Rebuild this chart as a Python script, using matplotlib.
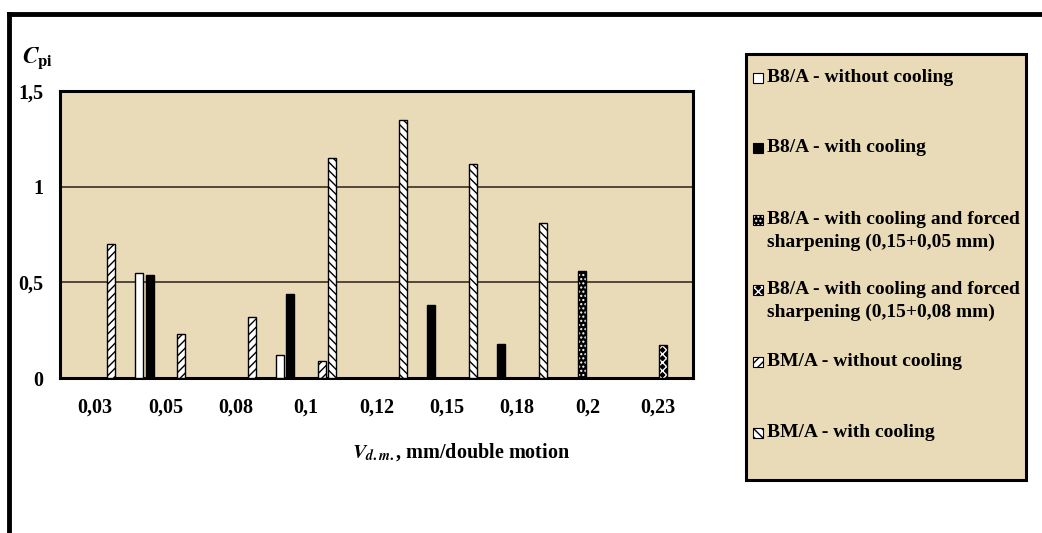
import numpy as np
import matplotlib
matplotlib.use('Agg')
import matplotlib.pyplot as plt
from matplotlib.patches import Rectangle
from matplotlib.lines import Line2D

plt.rcParams['font.family'] = ['Liberation Serif', 'DejaVu Serif']
plt.rcParams['font.weight'] = 'bold'
plt.rcParams['mathtext.fontset'] = 'stix'
plt.rcParams['hatch.linewidth'] = 1.0

nan = np.nan

# data
categories = ['0,03', '0,05', '0,08', '0,1', '0,12', '0,15', '0,18', '0,2', '0,23']
b8_no_cool = [nan, 0.55, nan, 0.12, nan, nan, nan, nan, nan]
b8_cool = [nan, 0.54, nan, 0.44, nan, 0.38, 0.18, nan, nan]
b8_forced_05 = [nan, nan, nan, nan, nan, nan, nan, 0.56, nan]
b8_forced_08 = [nan, nan, nan, nan, nan, nan, nan, nan, 0.17]
bm_no_cool = [0.70, 0.23, 0.32, 0.09, nan, nan, nan, nan, nan]
bm_cool = [nan, nan, nan, 1.15, 1.35, 1.12, 0.81, nan, nan]

labels = ['B8/A - without cooling',
          'B8/A - with cooling',
          'B8/A - with cooling and forced\nsharpening (0,15+0,05 mm)',
          'B8/A - with cooling and forced\nsharpening (0,15+0,08 mm)',
          'BM/A - without cooling',
          'BM/A - with cooling']
series = [b8_no_cool, b8_cool, b8_forced_05, b8_forced_08, bm_no_cool, bm_cool]

# face, hatch, hatch colour
styles = [('white', None, 'black'),
          ('black', None, 'black'),
          ('black', '....', 'white'),
          ('black', 'xxxx', 'white'),
          ('white', '////', 'black'),
          ('white', '\\\\\\\\', 'black')]

bg = '#E9DAB8'
W, H = 1042, 533
fig = plt.figure(figsize=(W / 100, H / 100), dpi=100)
fig.patch.set_facecolor('white')

ax = fig.add_axes([60 / W, 1 - 378 / H, 633 / W, 287 / H])
ax.set_facecolor(bg)

x = np.arange(len(categories))
pitch = 0.1487
width = 0.114
for j, (vals, (face, hatch, hcol)) in enumerate(zip(series, styles)):
    pos = x + (j - 2.5) * pitch
    if hatch:
        ax.bar(pos, vals, width, color=face, edgecolor=hcol, hatch=hatch, linewidth=0, zorder=3)
        ax.bar(pos, vals, width, fill=False, edgecolor='black', linewidth=1, zorder=4)
    else:
        ax.bar(pos, vals, width, color=face, edgecolor='black', linewidth=1, zorder=3)

ax.set_xlim(-0.5, len(categories) - 0.5)
ax.set_ylim(0, 1.5)
ax.set_yticks([0, 0.5, 1, 1.5])
ax.set_yticklabels(['0', '0,5', '1', '1,5'])
ax.set_xticks(x)
ax.set_xticklabels(categories)
ax.tick_params(axis='both', length=0, labelsize=14.5)
ax.tick_params(axis='x', pad=14)
ax.tick_params(axis='y', pad=12)
for yv in [0.5, 1.0]:
    ax.axhline(yv, color='#3a2e22', linewidth=1.2, zorder=2)
for s in ax.spines.values():
    s.set_linewidth(2.2)
    s.set_color('black')

fig.text(22 / W, 1 - 58 / H, r'$C_{\mathrm{pi}}$', fontsize=17, va='center', ha='left',
         fontweight='normal')
fig.text(461 / W, 1 - 452 / H, r'$V_{d.m.}$, mm/double motion', fontsize=14.5,
         va='center', ha='center', fontweight='bold')

# outer frame (only top and left visible in the crop)
fig.add_artist(Line2D([9 / W, 1], [1 - 14 / H, 1 - 14 / H], color='black', lw=3.5))
fig.add_artist(Line2D([9 / W, 9 / W], [0, 1 - 14 / H], color='black', lw=3.5))

# legend box
lx0, ly0, lx1, ly1 = 746, 54, 1026, 480
fig.add_artist(Rectangle((lx0 / W, 1 - ly1 / H), (lx1 - lx0) / W, (ly1 - ly0) / H,
                         transform=fig.transFigure, facecolor=bg, edgecolor='black', lw=2.2))
entry_y = [78, 148, 220, 290, 362, 433]
for lab, (face, hatch, hcol), yc in zip(labels, styles, entry_y):
    fig.add_artist(Rectangle((753 / W, 1 - (yc + 5) / H), 10 / W, 10 / H,
                             transform=fig.transFigure, facecolor=face,
                             edgecolor=hcol if hatch else 'black', hatch=hatch, lw=0))
    fig.add_artist(Rectangle((753 / W, 1 - (yc + 5) / H), 10 / W, 10 / H,
                             transform=fig.transFigure, fill=False, edgecolor='black', lw=0.8))
    fig.text(767 / W, 1 - (yc - 9) / H, lab, fontsize=14, va='top', ha='left',
             linespacing=1.45)

fig.savefig('out.png', dpi=100, facecolor='white')
